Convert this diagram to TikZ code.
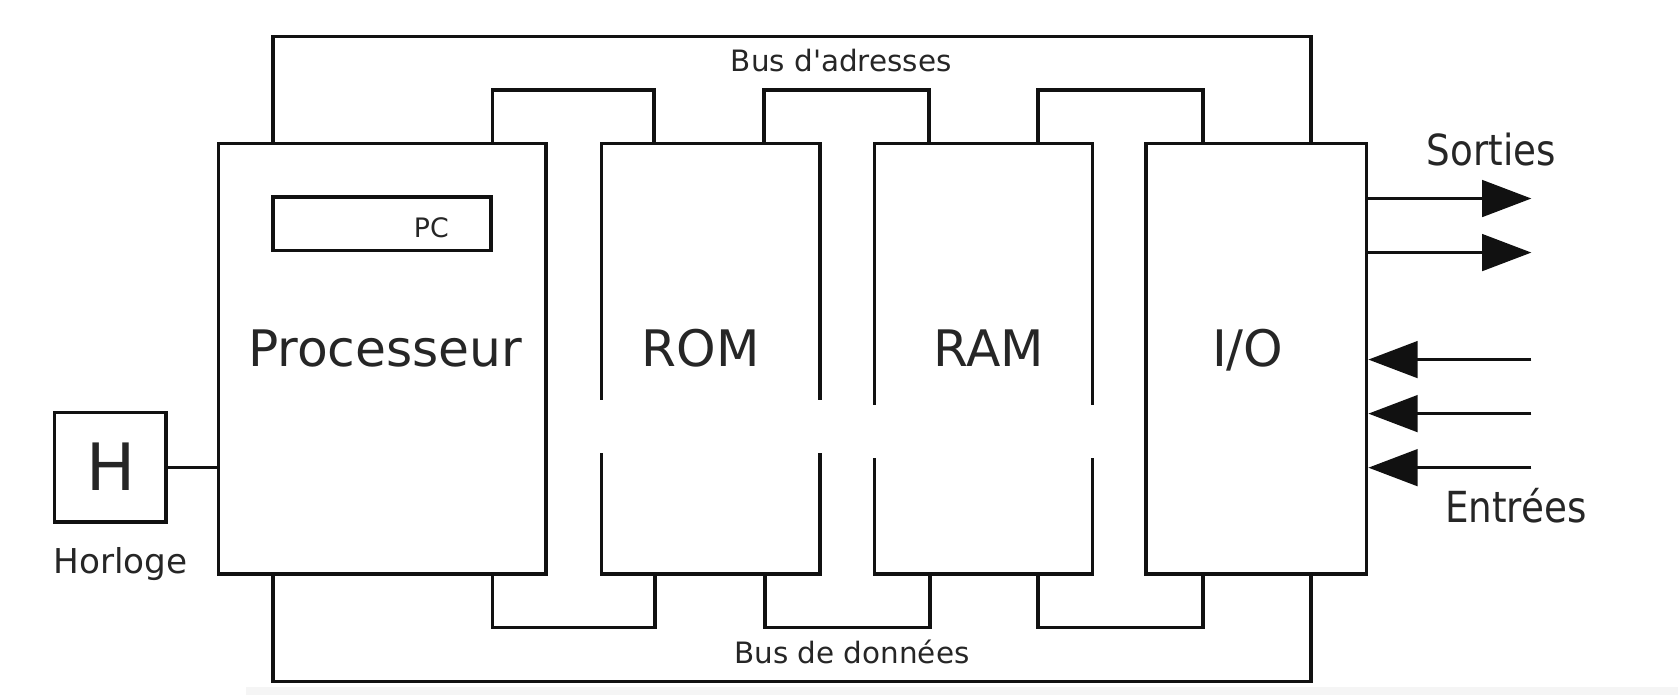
\documentclass[tikz,border=0pt]{standalone}
\usepackage{fontspec}
\setmainfont{DejaVu Sans}[Ligatures=TeXOff]
\usetikzlibrary{arrows.meta}
\definecolor{ink}{HTML}{111111}
\definecolor{txt}{HTML}{262626}
\definecolor{band}{HTML}{F5F5F5}
\tikzset{
  box/.style={draw=ink, line width=3.3pt, rectangle, inner sep=0pt, fill=none},
  wire/.style={draw=ink, line width=3.3pt, line join=miter},
  arr/.style={wire, -{Triangle[length=46pt,width=34pt]}},
  lab/.style={inner sep=0pt, anchor=base, text=txt},
  big/.style={lab, font=\fontsize{47}{56}\selectfont},
  small/.style={lab, font=\fontsize{27.5}{33}\selectfont},
}
\begin{document}
\begin{tikzpicture}[x=1pt,y=-1pt]
\useasboundingbox (0,0) rectangle (1568,649);
\fill[white] (0,0) rectangle (1568,649);
\fill[band] (230,642) rectangle (1568,649);
% boxes
\node[box, minimum width=306pt, minimum height=402.5pt] (proc) at (357,335.25) {};
\node[box, minimum width=204pt, minimum height=402.5pt] (rom) at (664,335.25) {};
\node[box, minimum width=204pt, minimum height=402.5pt] (ram) at (919,335.25) {};
\node[box, minimum width=206pt, minimum height=402.5pt] (io) at (1174,335.25) {};
\node[box, minimum width=204pt, minimum height=50pt] (pc) at (357,209) {};
\node[box, minimum width=104pt, minimum height=102.5pt] (hbox) at (103,436.7) {};
% gaps (artefact in the reference)
\fill[white] (556,374) rectangle (771,423);
\fill[white] (811,378.5) rectangle (1026,427.5);
% bus coordinates
\coordinate (abL) at (255,34);
\coordinate (abR) at (1225,34);
\coordinate (dbL) at (255,637);
\coordinate (dbR) at (1225,637);
\coordinate (a1) at (460,84);  \coordinate (a2) at (611,84);
\coordinate (a3) at (714,84);  \coordinate (a4) at (868,84);
\coordinate (a5) at (970,84);  \coordinate (a6) at (1124,84);
\coordinate (d1) at (460,586.5);  \coordinate (d2) at (612,586.5);
\coordinate (d3) at (715,586.5);  \coordinate (d4) at (869,586.5);
\coordinate (d5) at (970,586.5);  \coordinate (d6) at (1124,586.5);
% address bus
\draw[wire] (abL |- proc.north) -- (abL) -- (abR) -- (abR |- io.north);
\draw[wire] (a1 |- proc.north) -- (a1) -- (a2) -- (a2 |- rom.north);
\draw[wire] (a3 |- rom.north) -- (a3) -- (a4) -- (a4 |- ram.north);
\draw[wire] (a5 |- ram.north) -- (a5) -- (a6) -- (a6 |- io.north);
% data bus
\draw[wire] (dbL |- proc.south) -- (dbL) -- (dbR) -- (dbR |- io.south);
\draw[wire] (d1 |- proc.south) -- (d1) -- (d2) -- (d2 |- rom.south);
\draw[wire] (d3 |- rom.south) -- (d3) -- (d4) -- (d4 |- ram.south);
\draw[wire] (d5 |- ram.south) -- (d5) -- (d6) -- (d6 |- io.south);
% clock link
\draw[wire] (hbox.east) -- (hbox.east -| proc.west);
% outputs / inputs
\coordinate (o1) at (1431,185.5);
\coordinate (o2) at (1431,236);
\coordinate (i1) at (1431,336);
\coordinate (i2) at (1431,386.5);
\coordinate (i3) at (1431,437);
\draw[arr] (o1 -| io.east) -- (o1);
\draw[arr] (o2 -| io.east) -- (o2);
\draw[arr] (i1) -- (i1 -| io.east);
\draw[arr] (i2) -- (i2 -| io.east);
\draw[arr] (i3) -- (i3 -| io.east);
% labels
\node[big] (tproc) at (360,342) {Processeur};
\node[big] (trom) at (655,342) {ROM};
\node[big] (tram) at (924,342) {RAM};
\node[big] (tio) at (1166,342) {I/O};
\node[lab, font=\fontsize{25}{30}\selectfont] (tpc) at (403,221.5) {PC};
\node[lab, font=\fontsize{61}{72}\selectfont] (th) at (103.6,458.3) {H};
\node[lab, font=\fontsize{32}{38}\selectfont] (thor) at (112.8,535.6) {Horloge};
\node[small] (tab) at (786,67) {Bus d'adresses};
\node[small] (tdb) at (796,620) {Bus de données};
\node[lab, font=\fontsize{40}{48}\selectfont] (tsor) at (1393.7,154.2) {\scalebox{0.87}[1]{Sorties}};
\node[lab, font=\fontsize{40}{48}\selectfont] (tent) at (1416.5,488.5) {\scalebox{0.87}[1]{Entrées}};
\end{tikzpicture}
\end{document}
